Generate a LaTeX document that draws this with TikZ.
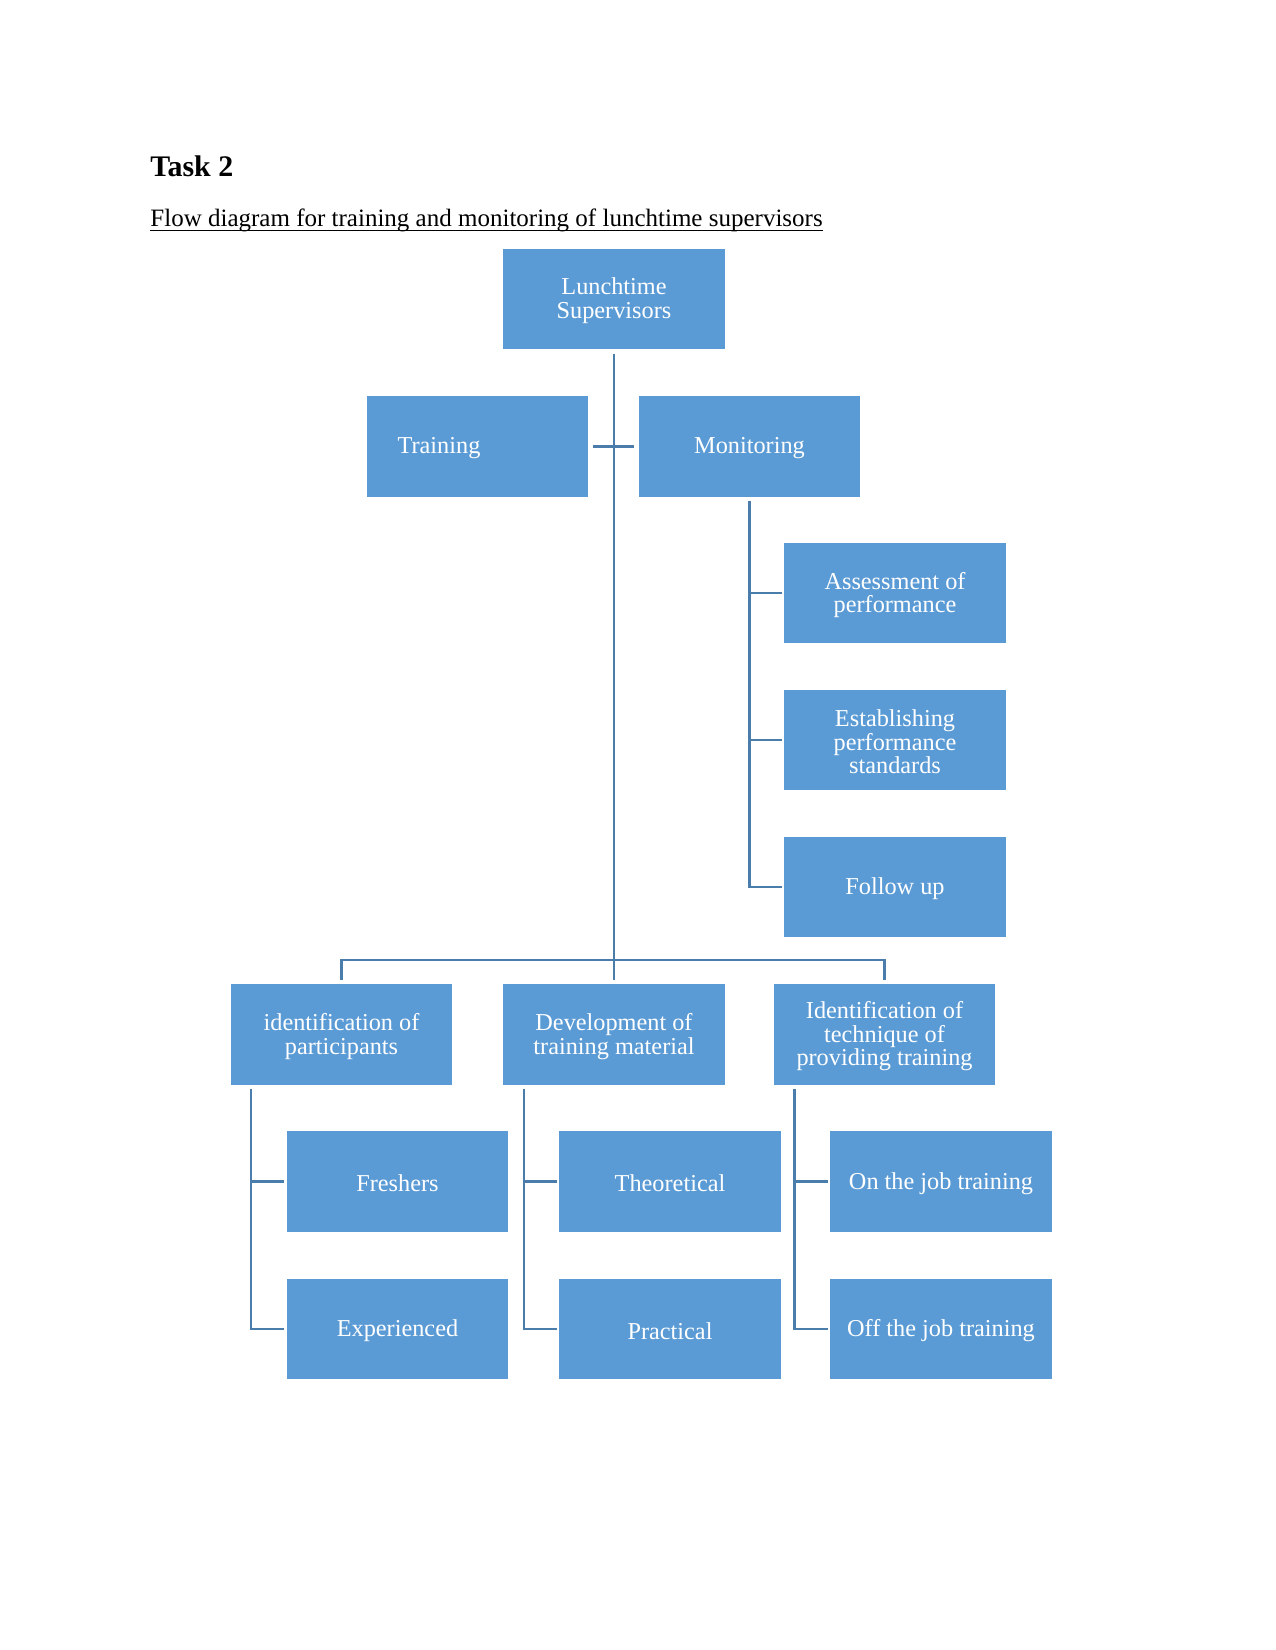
\documentclass[tikz,border=0pt]{standalone}
\usepackage{fontspec}
\setmainfont{Liberation Serif}
\usetikzlibrary{calc}
\definecolor{boxblue}{HTML}{5B9BD5}
\definecolor{linkblue}{RGB}{74,124,172}
\tikzset{
  box/.style={fill=boxblue, draw=none, inner sep=0pt, minimum width=1.476in, minimum height=0.667in},
  boxtext/.style={text=white, inner sep=0pt, align=center, font=\fontsize{11.7}{11.4}\selectfont},
  link/.style={draw=linkblue, line width=1.05pt},
  thicklink/.style={draw=linkblue, line width=1.8pt}
}
% box with its text, text slightly lowered as in the reference
\newcommand{\mybox}[3]{%
  \node[box] (#1) at (#2) {};
  \node[boxtext, yshift=-0.9pt] (#1-t) at (#1.center) {#3};
}
\begin{document}
\begin{tikzpicture}[x=0.0066667in, y=-0.0066667in]
\useasboundingbox (0,0) rectangle (1275,1650);
% titles
\node[anchor=base west, inner sep=0pt, font=\fontsize{14.4}{16}\selectfont\bfseries] (task) at (150,177) {Task 2};
\node[anchor=base west, inner sep=0pt, font=\fontsize{12.05}{14}\selectfont] (sub) at (150,227) {Flow diagram for training and monitoring of lunchtime supervisors};
\draw[line width=0.6pt] ($(sub.base west)+(0,3.5)$) -- ($(sub.base east)+(0,3.5)$);
% boxes
\mybox{lunch}{614,299}{Lunchtime\\Supervisors}
\node[box] (training) at (477.5,446.5) {};
\node[boxtext, yshift=-0.9pt] (training-t) at (439,446.5) {Training};
\mybox{monitoring}{749.5,446.5}{Monitoring}
\mybox{assess}{895,593}{Assessment of\\performance}
\mybox{establish}{895,740}{Establishing\\performance\\standards}
\mybox{follow}{895,887}{Follow up}
\mybox{ident}{341.5,1034.5}{identification of\\participants}
\mybox{develop}{614,1034.5}{Development of\\training material}
\mybox{technique}{884.5,1034.5}{Identification of\\technique of\\providing training}
\mybox{freshers}{397.5,1181.5}{Freshers}
\mybox{experienced}{397.5,1329}{Experienced}
\mybox{theoretical}{670,1181.5}{Theoretical}
\mybox{practical}{670,1329}{Practical}
\mybox{onjob}{941,1181.5}{On the job training}
\mybox{offjob}{941,1329}{Off the job training}
% main trunk and bus
\coordinate (bus) at (614,960);
\draw[link, shorten <=2pt, shorten >=2pt] (lunch.south) -- (develop.north);
\draw[link, shorten <=2pt, shorten >=2pt] (ident.north) |- (bus) -| (technique.north);
\draw[thicklink, shorten <=2pt, shorten >=2pt] (training.east) -- (monitoring.west);
% monitoring branch
\draw[link, shorten <=2pt, shorten >=1pt] (monitoring.south) |- (follow.west);
\draw[link, shorten >=1pt] (monitoring.south |- assess.west) -- (assess.west);
\draw[link, shorten >=1pt] (monitoring.south |- establish.west) -- (establish.west);
% lower branches
\coordinate (identline) at ($(ident.south west)+(21,0)$);
\coordinate (developline) at ($(develop.south west)+(21,0)$);
\coordinate (techline) at ($(technique.south west)+(21,0)$);
\draw[link, shorten <=2pt, shorten >=1pt] (identline) |- (experienced.west);
\draw[link, shorten >=1pt] (identline |- freshers.west) -- (freshers.west);
\draw[link, shorten <=2pt, shorten >=1pt] (developline) |- (practical.west);
\draw[link, shorten >=1pt] (developline |- theoretical.west) -- (theoretical.west);
\draw[link, shorten <=2pt, shorten >=1pt] (techline) |- (offjob.west);
\draw[link, shorten >=1pt] (techline |- onjob.west) -- (onjob.west);
\end{tikzpicture}
\end{document}
